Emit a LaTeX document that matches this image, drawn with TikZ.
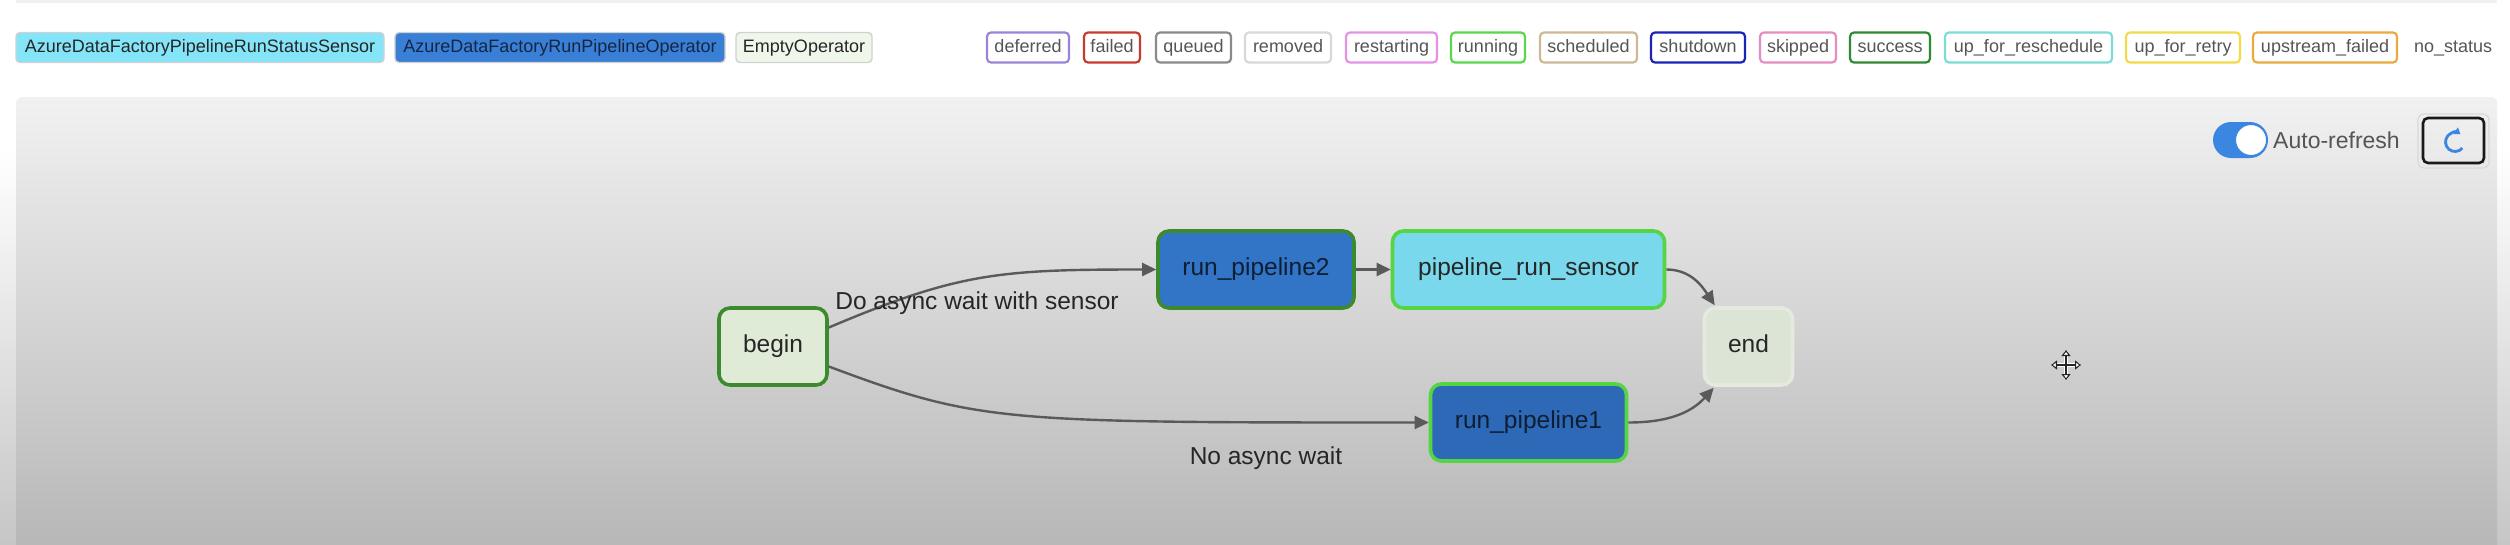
\documentclass[tikz,border=0pt]{standalone}
\usepackage{fontspec}
\setmainfont{Liberation Sans}
\usetikzlibrary{arrows.meta,calc}
\definecolor{txtgray}{HTML}{555555}
\definecolor{edgegray}{HTML}{5A5A5A}
\definecolor{panTop}{HTML}{F1F1F1}
\definecolor{panBot}{HTML}{B3B3B3}
\definecolor{outBot}{HTML}{C6C6C6}
\definecolor{sensorLeg}{HTML}{84E4F8}
\definecolor{opLeg}{HTML}{3A7FD6}
\definecolor{emptyLeg}{HTML}{EFF7EA}
\definecolor{sensorFill}{HTML}{79D8EC}
\definecolor{rp2Fill}{HTML}{3275C6}
\definecolor{rp1Fill}{HTML}{2D69B7}
\definecolor{beginFill}{HTML}{DFEBD6}
\definecolor{endFill}{HTML}{DCE4D5}
\definecolor{successC}{HTML}{3C892E}
\definecolor{runningC}{HTML}{55D444}
\definecolor{endBorder}{HTML}{E5EAE0}
\definecolor{cDeferred}{HTML}{9A84D8}
\definecolor{cFailed}{HTML}{C93A2E}
\definecolor{cQueued}{HTML}{8A8A8A}
\definecolor{cRemoved}{HTML}{D8D8D8}
\definecolor{cRestart}{HTML}{E493E4}
\definecolor{cRunning}{HTML}{5AD64A}
\definecolor{cSched}{HTML}{CDB898}
\definecolor{cShutdown}{HTML}{1A22B8}
\definecolor{cSkipped}{HTML}{E58CC0}
\definecolor{cSuccess}{HTML}{2F8A2F}
\definecolor{cResched}{HTML}{7CDCD6}
\definecolor{cRetry}{HTML}{F3DA4A}
\definecolor{cUpFail}{HTML}{EBAA3C}
\definecolor{toggleBlue}{HTML}{3B86E0}
\begin{document}
\begin{tikzpicture}[x=1pt,y=-1pt,
  legfont/.style={font=\fontsize{18}{20}\selectfont},
  stbox/.style={legfont, draw=#1, line width=2.2pt, fill=white, rounded corners=4pt,
    minimum height=30pt, inner sep=0pt, text=txtgray, text height=13pt, text depth=4pt},
  opbox/.style={legfont, draw=black!18, line width=1.4pt, rounded corners=4pt,
    minimum height=30pt, inner sep=0pt, text height=13pt, text depth=4pt},
  task/.style={font=\fontsize{24.5}{28}\selectfont, line width=3.6pt, rounded corners=11pt,
    minimum height=77pt, inner sep=0pt, text height=17pt, text depth=5pt},
  edge/.style={draw=edgegray, line width=2.4pt, -{Triangle[length=14pt,width=13pt]}},
  elabel/.style={font=\fontsize{24.5}{28}\selectfont, text=black!85, inner sep=0pt}
]
\useasboundingbox (0,0) rectangle (2510,544);
% background
\fill[white] (0,0) rectangle (2510,544);
\shade[top color=white, bottom color=outBot] (0,150) rectangle (2510,544);
\fill[black!6] (16,0) rectangle (2497,3);
\shade[top color=panTop, bottom color=panBot, rounded corners=6pt] (16,97) rectangle (2497,580);

% operator legend
\node[opbox, fill=sensorLeg, minimum width=368pt, text=black!85] (lsensor) at (200,47.5) {AzureDataFactoryPipelineRunStatusSensor};
\node[opbox, fill=opLeg, minimum width=330pt, text={rgb,255:red,20;green,38;blue,70}] (lop) at (560,47.5) {AzureDataFactoryRunPipelineOperator};
\node[opbox, fill=emptyLeg, minimum width=136pt, text=black!85] (lempty) at (804,47.5) {EmptyOperator};

% state legend
\node[stbox=cDeferred, minimum width=82pt] (sdeferred) at (1028,47.5) {deferred};
\node[stbox=cFailed, minimum width=56pt] (sfailed) at (1112,47.5) {failed};
\node[stbox=cQueued, minimum width=75pt] (squeued) at (1193.5,47.5) {queued};
\node[stbox=cRemoved, minimum width=86pt] (sremoved) at (1288,47.5) {removed};
\node[stbox=cRestart, minimum width=91pt] (srestart) at (1391.5,47.5) {restarting};
\node[stbox=cRunning, minimum width=74pt] (srunning) at (1488,47.5) {running};
\node[stbox=cSched, minimum width=97pt] (ssched) at (1588.5,47.5) {scheduled};
\node[stbox=cShutdown, minimum width=94pt] (sshutdown) at (1698,47.5) {shutdown};
\node[stbox=cSkipped, minimum width=76pt] (sskipped) at (1798,47.5) {skipped};
\node[stbox=cSuccess, minimum width=80pt] (ssuccess) at (1890,47.5) {success};
\node[stbox=cResched, minimum width=167pt] (sresched) at (2028.5,47.5) {up\_for\_reschedule};
\node[stbox=cRetry, minimum width=114pt] (sretry) at (2183,47.5) {up\_for\_retry};
\node[stbox=cUpFail, minimum width=144pt] (supfail) at (2325,47.5) {upstream\_failed};
\node[legfont, text=txtgray, inner sep=0pt, text height=13pt, text depth=4pt] (snostatus) at (2453,47.5) {no\_status};

% auto-refresh toggle
\fill[toggleBlue, rounded corners=18pt] (2213,122) rectangle (2268,158);
\draw[fill=white, draw=toggleBlue, line width=1pt] (2251,140) circle[radius=15.5];
\node[font=\fontsize{23}{26}\selectfont, text=txtgray, anchor=west, inner sep=0pt] (autoref) at (2273,140) {Auto-refresh};
% refresh button
\draw[black!15, line width=1.2pt, rounded corners=6pt] (2418,114) rectangle (2489,168);
\draw[black!90, line width=2.6pt, rounded corners=5pt] (2423,118) rectangle (2484,163);
\begin{scope}[shift={(2455,142)}, yscale=-1]
  \draw[toggleBlue, line width=2.8pt, -{Triangle[length=6pt,width=8pt]}]
    (-40:9.5) arc[start angle=-40, end angle=-305, radius=9.5];
\end{scope}

% move cursor
\begin{scope}[shift={(2066,365)}]
  \draw[white, line width=4pt] (-14,0) -- (14,0) (0,-14) -- (0,14);
  \draw[black!85, line width=1.1pt,
    {Triangle[open,length=6pt,width=9pt,fill=white]}-{Triangle[open,length=6pt,width=9pt,fill=white]}] (-15,0) -- (15,0);
  \draw[black!85, line width=1.1pt,
    {Triangle[open,length=6pt,width=9pt,fill=white]}-{Triangle[open,length=6pt,width=9pt,fill=white]}] (0,-15) -- (0,15);
\end{scope}

% tasks
\node[task, draw=successC, fill=beginFill, minimum width=108pt, text=black!85] (begin) at (773,346.5) {begin};
\node[task, draw=successC, fill=rp2Fill, minimum width=196pt, text={rgb,255:red,15;green,30;blue,50}] (rp2) at (1256,269.5) {run\_pipeline2};
\node[task, draw=runningC, fill=sensorFill, minimum width=272pt, text=black!85] (sensor) at (1528.5,269.5) {pipeline\_run\_sensor};
\node[task, draw=runningC, fill=rp1Fill, minimum width=196pt, text={rgb,255:red,15;green,30;blue,50}] (rp1) at (1528.5,422.5) {run\_pipeline1};
\node[task, draw=endBorder, fill=endFill, minimum width=88pt, text=black!85] (end) at (1748.5,346.5) {end};

% edges
\draw[edge] ([yshift=19pt]begin.east) .. controls +(130,-55) and +(-157,0) .. (rp2.west);
\draw[edge] ([yshift=-20pt]begin.east) .. controls +(150,56) and +(-429,0) .. (rp1.west);
\draw[edge] (rp2.east) -- (sensor.west);
\draw[edge] (sensor.east) .. controls +(25,0) and +(-12,-18) .. ($(end.north west)+(12,-1)$);
\draw[edge] (rp1.east) .. controls +(45,0) and +(-20,22) .. ($(end.south west)+(11,1)$);

% edge labels
\node[elabel] (lbl1) at (977,303) {Do async wait with sensor};
\node[elabel] (lbl2) at (1266,458) {No async wait};
\end{tikzpicture}
\end{document}
